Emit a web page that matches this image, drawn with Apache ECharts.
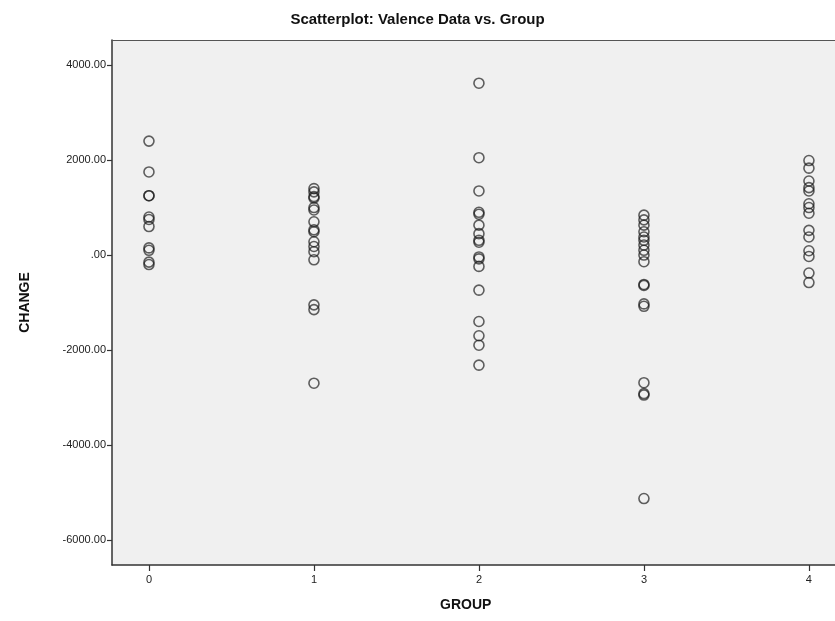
<!DOCTYPE html>
<html>
<head>
<meta charset="utf-8">
<script src="https://cdn.jsdelivr.net/npm/echarts@6/dist/echarts.min.js"></script>
<style>html,body{margin:0;padding:0;background:#fff}#c{width:835px;height:621px}</style>
</head>
<body>
<div id="c"></div>
<script>
const groups = [0, 1, 2, 3, 4];
const group0 = [2400, 1750, 1250, 1250, 800, 750, 600, 150, 100, -150, -200];
const group1 = [1400, 1330, 1230, 1200, 1000, 950, 700, 530, 490, 280, 180, 70, -100, -1050, -1150, -2700];
const group2 = [3620, 2050, 1350, 900, 860, 630, 450, 310, 270, -40, -80, -240, -740, -1400, -1700, -1900, -2320];
const group3 = [840, 740, 630, 490, 380, 310, 210, 100, 0, -140, -620, -640, -1030, -1080, -2690, -2920, -2950, -5130];
const group4 = [1990, 1830, 1560, 1420, 1350, 1080, 1000, 880, 520, 380, 90, -30, -380, -580];
const yTicks = [-6000, -4000, -2000, 0, 2000, 4000];
const xTicks = [0, 1, 2, 3, 4];

const seriesValues = [group0, group1, group2, group3, group4];
const pts = [];
seriesValues.forEach((arr, i) => arr.forEach(v => pts.push([groups[i], v])));

const chart = echarts.init(document.getElementById('c'));
const font = 'Arial, "Liberation Sans", sans-serif';
chart.setOption({
  animation: false,
  backgroundColor: '#ffffff',
  title: {
    text: 'Scatterplot: Valence Data vs. Group',
    left: 'center', top: 7,
    textStyle: {fontFamily: font, fontSize: 15, fontWeight: 'bold', color: '#111'}
  },
  grid: {
    left: 112, top: 40, right: 0, bottom: 56,
    show: true, backgroundColor: '#f0f0f0', borderWidth: 0
  },
  xAxis: [{
    type: 'value', min: -0.224, max: 4.158,
    splitLine: {show: false},
    axisLine: {show: true, onZero: false, lineStyle: {color: '#333', width: 1.5}},
    axisTick: {show: true, length: 6, customValues: xTicks, lineStyle: {color: '#333', width: 1.2}},
    axisLabel: {customValues: xTicks, margin: 9, fontFamily: font, fontSize: 11, color: '#222'}
  }, {
    type: 'value', position: 'top', min: -0.224, max: 4.158,
    splitLine: {show: false},
    axisLine: {show: true, onZero: false, lineStyle: {color: '#555', width: 1.2}},
    axisTick: {show: false}, axisLabel: {show: false}
  }],
  yAxis: {
    type: 'value', min: -6530, max: 4530,
    name: 'CHANGE', nameLocation: 'middle', nameGap: 80, nameRotate: 90,
    nameTextStyle: {fontFamily: font, fontSize: 14, fontWeight: 'bold', color: '#111'},
    splitLine: {show: false},
    axisLine: {show: true, onZero: false, lineStyle: {color: '#333', width: 1.5}},
    axisTick: {show: true, length: 5, customValues: yTicks, lineStyle: {color: '#333', width: 1.2}},
    axisLabel: {
      customValues: yTicks, margin: 6, fontFamily: font, fontSize: 11, color: '#222',
      formatter: v => v === 0 ? '.00' : v.toFixed(2)
    }
  },
  graphic: [{
    type: 'text', left: 440, top: 598,
    style: {text: 'GROUP', font: 'bold 14px ' + font, fill: '#111'}
  }],
  series: [{
    type: 'scatter',
    xAxisIndex: 0,
    data: pts,
    symbol: 'circle',
    symbolSize: 10,
    itemStyle: {color: 'rgba(0,0,0,0)', borderColor: 'rgba(25,25,25,0.85)', borderWidth: 1.6}
  }]
});
</script>
</body>
</html>
